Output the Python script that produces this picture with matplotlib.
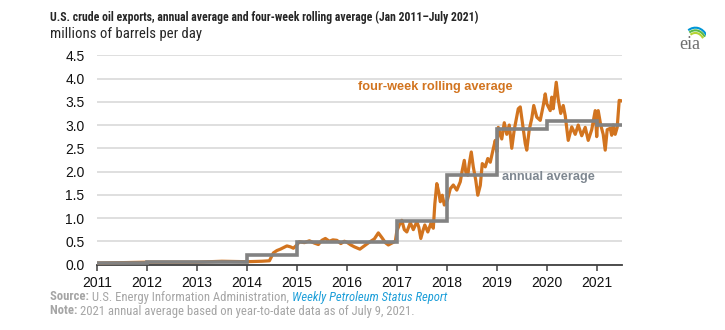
import matplotlib
matplotlib.use("Agg")
import matplotlib.pyplot as plt
from matplotlib.patches import Arc

# Four-week rolling average of U.S. crude oil exports (decimal year, million b/d)
rolling_year = [
    2011.00, 2011.50, 2012.00, 2012.50, 2013.00, 2013.50, 2014.00, 2014.30, 2014.45,
    2014.53, 2014.60, 2014.67, 2014.80, 2014.87, 2014.93, 2015.00, 2015.05, 2015.15,
    2015.25, 2015.35, 2015.43, 2015.50, 2015.57, 2015.65, 2015.72, 2015.80, 2015.88,
    2015.95, 2016.00, 2016.08, 2016.15, 2016.26, 2016.35, 2016.45, 2016.55, 2016.63,
    2016.70, 2016.77, 2016.83, 2016.90, 2016.97, 2017.00, 2017.05, 2017.10, 2017.15,
    2017.20, 2017.27, 2017.33, 2017.40, 2017.44, 2017.48, 2017.52, 2017.56, 2017.62,
    2017.68, 2017.73, 2017.76, 2017.80, 2017.84, 2017.87, 2017.91, 2017.95, 2018.01,
    2018.07, 2018.13, 2018.20, 2018.27, 2018.31, 2018.35, 2018.38, 2018.42, 2018.45,
    2018.49, 2018.53, 2018.58, 2018.62, 2018.67, 2018.71, 2018.77, 2018.82, 2018.87,
    2018.93, 2018.97, 2019.00, 2019.03, 2019.10, 2019.15, 2019.20, 2019.25, 2019.30,
    2019.35, 2019.43, 2019.47, 2019.52, 2019.57, 2019.60, 2019.65, 2019.70, 2019.74,
    2019.80, 2019.87, 2019.93, 2019.97, 2020.00, 2020.07, 2020.10, 2020.13, 2020.19,
    2020.23, 2020.28, 2020.33, 2020.37, 2020.43, 2020.50, 2020.57, 2020.63, 2020.70,
    2020.77, 2020.83, 2020.90, 2020.97, 2021.00, 2021.03, 2021.08, 2021.13, 2021.17,
    2021.21, 2021.27, 2021.30, 2021.33, 2021.37, 2021.41, 2021.45, 2021.50,
]
rolling_value = [
    0.03, 0.04, 0.05, 0.05, 0.05, 0.07, 0.06, 0.07, 0.08,
    0.25, 0.30, 0.33, 0.40, 0.38, 0.35, 0.42, 0.49, 0.47,
    0.51, 0.46, 0.43, 0.52, 0.56, 0.50, 0.53, 0.52, 0.45,
    0.50, 0.48, 0.42, 0.38, 0.33, 0.40, 0.48, 0.55, 0.68,
    0.58, 0.47, 0.42, 0.46, 0.50, 0.72, 0.85, 0.95, 0.75,
    0.70, 0.90, 0.75, 0.92, 0.80, 0.56, 0.72, 0.85, 0.70,
    0.88, 0.78, 1.30, 1.74, 1.55, 1.35, 1.49, 1.28, 1.38,
    1.63, 1.71, 1.60, 1.78, 2.03, 2.24, 1.99, 1.92, 2.17,
    2.42, 2.10, 1.81, 1.49, 1.70, 2.17, 2.10, 2.28, 2.20,
    2.49, 2.67, 2.42, 2.95, 2.70, 3.05, 2.80, 3.00, 2.50,
    2.90, 3.35, 3.39, 3.00, 2.60, 2.46, 2.90, 3.14, 3.42,
    3.17, 3.10, 3.42, 3.67, 3.46, 3.31, 3.60, 3.35, 3.92,
    3.55, 3.25, 3.42, 3.20, 2.67, 2.96, 2.80, 3.00, 2.77,
    2.95, 2.67, 2.90, 3.31, 2.75, 3.31, 3.00, 2.80, 2.46,
    2.90, 2.93, 2.78, 3.00, 2.80, 2.95, 3.53, 3.52,
]

# Annual averages, one value per calendar year (2021 is year-to-date)
annual_edges = [2011, 2012, 2013, 2014, 2015, 2016, 2017, 2018, 2019, 2020, 2021, 2021.5]
annual_value = [0.03, 0.05, 0.05, 0.20, 0.49, 0.49, 0.94, 1.93, 2.92, 3.09, 3.00]

x_ticks = list(range(2011, 2022))
y_ticks = [0.0, 0.5, 1.0, 1.5, 2.0, 2.5, 3.0, 3.5, 4.0, 4.5]

ORANGE = "#D2741F"
GRAY = "#828282"
LABEL_GRAY = "#7E8790"
NOTE_GRAY = "#A5A5A5"
LINK_BLUE = "#1E9FD9"
NARROW = ["Roboto Condensed", "Liberation Sans", "DejaVu Sans"]

plt.rcParams["font.family"] = ["Liberation Sans", "DejaVu Sans"]

W, H = 725, 330
fig = plt.figure(figsize=(W / 100, H / 100), dpi=100)
ax = fig.add_axes([97 / W, (H - 264.5) / H, (621.7 - 97) / W, (264.5 - 55.3) / H])

ax.set_xlim(2011, 2021.5)
ax.set_ylim(0, 4.5)
ax.set_yticks(y_ticks)
ax.set_yticklabels([f"{v:.1f}" for v in y_ticks])
ax.set_xticks(x_ticks)
ax.set_xticklabels([str(y) for y in x_ticks])
ax.grid(axis="y", color="#DCDCDC", linewidth=1.3)
ax.set_axisbelow(True)
for side in ("top", "right", "left"):
    ax.spines[side].set_visible(False)
ax.spines["bottom"].set_color("#404040")
ax.spines["bottom"].set_linewidth(1.3)
ax.tick_params(axis="y", length=0, pad=9, labelsize=10, labelcolor="#111111")
ax.tick_params(axis="x", length=4, width=1.1, color="#404040", pad=4,
               labelsize=10, labelcolor="#111111")

ax.plot(rolling_year, rolling_value, color=ORANGE, linewidth=2.3,
        solid_joinstyle="round", zorder=3)
ax.stairs(annual_value, annual_edges, baseline=None, color=GRAY,
          linewidth=2.6, zorder=4)

ax.text(2017.77, 3.81, "four-week rolling average", color=ORANGE,
        fontsize=9.2, fontweight="bold", ha="center", va="center")
ax.text(2019.11, 1.88, "annual average", color=LABEL_GRAY,
        fontsize=9.2, fontweight="bold", ha="left", va="center")

# Title block
fig.text(50 / W, 1 - 17 / H,
         "U.S. crude oil exports, annual average and four-week rolling average (Jan 2011\u2013July 2021)",
         family=NARROW, fontweight="bold",
         fontsize=8.5, color="#262626", ha="left", va="center")
fig.text(50 / W, 1 - 34 / H, "millions of barrels per day",
         family=NARROW, fontsize=10.6, color="#262626", ha="left", va="center")

# Footnotes with mixed styles, placed piece by piece
renderer = fig.canvas.get_renderer()


def text_run(x_px, y_px, pieces):
    for s, kw in pieces:
        t = fig.text(x_px / W, 1 - y_px / H, s, ha="left", va="center",
                     family=NARROW, fontsize=9.1, **kw)
        bb = t.get_window_extent(renderer=renderer)
        x_px += bb.width


text_run(50, 297, [
    ("Source: ", dict(fontweight="bold", color=NOTE_GRAY)),
    ("U.S. Energy Information Administration, ", dict(color=NOTE_GRAY)),
    ("Weekly Petroleum Status Report", dict(style="italic", color=LINK_BLUE)),
])
text_run(50, 311, [
    ("Note: ", dict(fontweight="bold", color=NOTE_GRAY)),
    ("2021 annual average based on year-to-date data as of July 9, 2021.", dict(color=NOTE_GRAY)),
])

# eia logo mark
lax = fig.add_axes([678 / W, 1 - 54 / H, 28 / W, 32 / H])
lax.set_xlim(0, 1)
lax.set_ylim(0, 1)
lax.axis("off")
for r, c in [(0.95, "#0096D6"), (0.80, "#5BB947"), (0.65, "#B4D334")]:
    lax.add_patch(Arc((0.62, 0.30), r, r * 1.1, theta1=35, theta2=120,
                      color=c, linewidth=1.5))
lax.text(0.42, 0.30, "eia", family="Liberation Serif", fontsize=13,
         color="#6E6E6E", ha="center", va="center")

fig.savefig("out.png", dpi=100)
